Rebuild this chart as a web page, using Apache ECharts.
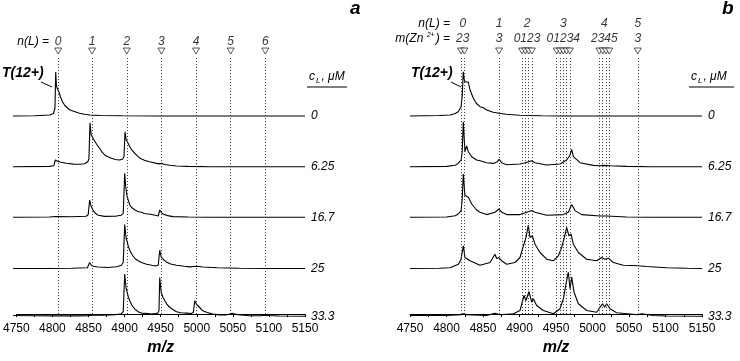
<!DOCTYPE html>
<html>
<head>
<meta charset="utf-8">
<style>
html, body { margin: 0; padding: 0; background: #fff; }
#chart { width: 740px; height: 361px; }
</style>
<script src="https://cdn.jsdelivr.net/npm/echarts/dist/echarts.min.js"></script>
</head>
<body>
<div id="chart"></div>
<script>
const MZ_MIN = 4750
const MZ_MAX = 5150
const concentrations = ['0', '6.25', '16.7', '25', '33.3']

// panel a: number of bound ligands and the m/z of each
const ligandCountA = ['0', '1', '2', '3', '4', '5', '6']
const ligandPosA = [4808, 4855, 4903, 4951, 4999, 5047, 5095]

// panel b: ligands + bound zinc ions
const ligandCountB = ['0', '1', '2', '3', '4', '5']
const zincLabelsB = ['23', '3', '0123', '01234', '2345', '3']
const zincPosB = [
  [4820, 4824.5],
  [4872],
  [4903.5, 4908, 4912.5, 4917],
  [4951, 4955.5, 4960, 4964.5, 4969],
  [5009.5, 5014, 5018.5, 5023],
  [5062]
]

// spectra, [m/z, intensity]
const specA0 = [[4750, 0], [4780, 0.3], [4800, 1], [4805.5, 2.5], [4807.5, 8], [4808.5, 44], [4809.5, 30], [4811, 27], [4812, 29], [4813, 24], [4815, 19], [4818, 14], [4821, 10.5], [4824, 8.5], [4827, 6.5], [4830, 5.5], [4832, 6], [4835, 4.3], [4841, 2.7], [4848, 1.7], [4855, 1], [4870, 0.5], [4900, 0.2], [4950, 0], [5150, 0]]
const specA1 = [[4750, 0], [4800, 0.3], [4806, 1], [4808, 6.7], [4811, 5.5], [4816, 4.5], [4823, 3.4], [4833, 2.6], [4841, 2.4], [4848, 3], [4852.5, 5], [4854, 8], [4855.5, 44], [4857, 32], [4860, 28], [4862, 26.5], [4865, 22], [4869, 18], [4872, 14.5], [4876, 11.5], [4880, 10], [4885, 8.4], [4890, 7.2], [4896, 6.7], [4900, 7.5], [4902, 10], [4903.5, 35], [4905, 27], [4908, 23], [4910, 20], [4913, 16.5], [4917, 13.4], [4920, 11], [4924, 8.4], [4930, 6.5], [4937, 5], [4945, 3.6], [4950, 2.8], [4953, 3.3], [4958, 2.2], [4965, 1.4], [4974, 0.7], [4990, 0.3], [5020, 0], [5150, 0]]
const specA2 = [[4750, 0], [4800, 0.3], [4808, 0.8], [4830, 0.5], [4850, 1], [4853, 2.5], [4855, 17.3], [4857, 11], [4859.5, 7.3], [4862, 4.5], [4866, 2.3], [4875, 0.9], [4890, 1], [4898, 2], [4901, 4], [4903, 44], [4904.5, 30], [4906, 22], [4908, 17], [4910, 12.3], [4913, 9.5], [4917, 7.3], [4922, 5.5], [4926, 5], [4930, 3.8], [4938, 3], [4945, 2], [4949, 1.3], [4951, 7.3], [4953, 5], [4956, 3], [4962, 1.7], [4969, 0.7], [4990, 0.3], [5020, 0], [5150, 0]]
const specA3 = [[4750, 0], [4800, 0], [4830, 0.2], [4852, 0.8], [4855, 6], [4857, 3.5], [4860, 2.3], [4866, 1.5], [4880, 1], [4892, 1.8], [4898.5, 3.3], [4901, 6], [4903, 44], [4905, 30], [4906.5, 26.6], [4908, 22], [4910, 18.3], [4913, 14], [4917, 10], [4921, 8], [4926, 6], [4933, 4.3], [4940, 3.3], [4946, 2.5], [4949, 3.5], [4951, 18.3], [4953, 11.6], [4956, 9], [4960, 6.6], [4966, 4.5], [4974, 3.3], [4985, 2.2], [4992, 1.6], [4997, 2], [4999, 3.3], [5002, 2.3], [5010, 1.5], [5030, 0.8], [5060, 0.3], [5100, 0], [5150, 0]]
const specA4 = [[4750, 1], [4780, 0.8], [4810, 0.6], [4840, 0.6], [4853, 0.8], [4855, 1.6], [4858, 1.2], [4875, 1.2], [4890, 1.8], [4898.5, 2.8], [4901, 5], [4903, 42.4], [4905, 28], [4906.5, 24], [4908, 19.5], [4910, 15.7], [4913, 11], [4917, 7.4], [4922, 4.5], [4926, 3.4], [4935, 3], [4940, 2.4], [4945, 3], [4948.5, 3.4], [4950, 6], [4951, 39], [4953, 24], [4955.5, 19], [4958, 15.7], [4961, 12], [4965, 9], [4970, 6.5], [4974, 4.7], [4980, 3.8], [4988, 3.4], [4994, 3], [4997, 4], [4999, 15.7], [5001, 12.5], [5003.5, 10.7], [5007, 8], [5010, 5.7], [5016, 4], [5024, 2.4], [5033, 1.6], [5041, 1.5], [5045, 2], [5047, 4], [5050, 3.2], [5054, 2.4], [5062, 1.5], [5075, 0.8], [5090, 0.8], [5095, 1.4], [5100, 1], [5115, 0.5], [5150, 0.3]]

const specB0 = [[4750, 0], [4790, 0.5], [4805, 1], [4812, 2.5], [4816, 4.3], [4820, 9.3], [4821.5, 20], [4823, 44.3], [4824, 38], [4825.3, 34], [4826.5, 35], [4827.6, 36], [4829.9, 34], [4832.2, 26], [4836.8, 17.7], [4841, 12.5], [4846, 9.3], [4850.5, 8.3], [4855, 6], [4864, 3.7], [4872, 2.7], [4882, 1.7], [4900, 0.7], [4930, 0.2], [4960, 0], [5150, 0]]
const specB1 = [[4750, 0], [4800, 0.3], [4812, 1.5], [4816, 3.3], [4820, 6.7], [4821.5, 15], [4823, 45], [4825.3, 15], [4827.6, 20.7], [4829.9, 15], [4834.5, 10], [4841.3, 6.7], [4846, 6], [4855, 4], [4864, 3.3], [4869.6, 5], [4872, 7.3], [4875.6, 4], [4882.4, 2], [4900.7, 2.7], [4908, 4], [4912, 5], [4916.7, 6], [4921.2, 4], [4937, 1.7], [4955.5, 2.7], [4964.6, 6.7], [4969.2, 11.7], [4971.5, 17.3], [4973.8, 10], [4983, 4], [5001, 1.3], [5010, 1], [5015, 1.3], [5024, 1], [5047, 0.3], [5080, 0], [5150, 0]]
const specB2 = [[4750, 0], [4800, 0.3], [4812, 1.5], [4816, 3.3], [4820, 6.7], [4821.5, 18], [4823, 43.3], [4825.3, 21.7], [4827.6, 23.3], [4829.9, 20], [4834.5, 13.3], [4841.3, 7.3], [4846, 5], [4855, 2.7], [4866.4, 5], [4872, 8.3], [4875.6, 5], [4882.4, 2.7], [4900.7, 2.7], [4909.8, 5], [4916.7, 6.7], [4921.2, 5], [4937.2, 2], [4960.1, 2.7], [4966.9, 5], [4971.5, 12.7], [4976, 6.7], [4985.2, 2.7], [5010.3, 1.3], [5019.4, 1.3], [5046.8, 0.3], [5080, 0], [5150, 0]]
const specB3 = [[4750, 0], [4790, 0.3], [4804.8, 0.7], [4816.2, 4.3], [4819.9, 9.3], [4823.1, 22.7], [4825.3, 11], [4827.6, 12.7], [4832.2, 7.7], [4845.9, 3.3], [4859.6, 6], [4866.4, 14.3], [4868.7, 10], [4871.9, 11], [4875.6, 7.7], [4882.4, 4.3], [4893.8, 6], [4900.7, 11], [4905.3, 22.7], [4908.9, 31], [4912.1, 43.3], [4914.4, 31], [4917.6, 32.7], [4921.2, 24.3], [4928.1, 16], [4937.2, 9.3], [4946.4, 7.7], [4953.2, 12.7], [4957.8, 21], [4961.4, 31], [4964.6, 41], [4967.8, 32.7], [4970.6, 34.3], [4973.8, 24.3], [4980.6, 16], [4992, 9.3], [5005.7, 7.7], [5012.6, 11], [5017.1, 9.3], [5021.7, 10.3], [5028.5, 6], [5042.2, 3.3], [5061.9, 2.7], [5074.2, 2], [5101.6, 0.7], [5130, 0.2], [5150, 0]]
const specB4 = [[4750, 1], [4800, 1], [4819.9, 1.7], [4823.1, 2.7], [4827.6, 1.7], [4855, 1], [4866.4, 3.3], [4873.3, 1.7], [4891.6, 2.7], [4900.7, 6], [4906.2, 21], [4908.9, 16], [4913, 25], [4916.7, 14.3], [4918.9, 17.7], [4923.5, 11], [4932.6, 6], [4946.4, 2.7], [4955.5, 7.7], [4960.1, 17.7], [4963.3, 31], [4966.9, 44.3], [4969.2, 27.7], [4971.5, 39.3], [4974.7, 24.3], [4980.6, 12.7], [4992, 6], [5005.7, 4.3], [5010.3, 9.3], [5013.9, 12.7], [5016.7, 9.3], [5019.4, 12.7], [5024, 7.7], [5033.1, 3.7], [5061.9, 1.7], [5067.4, 2.7], [5083.3, 1], [5101.6, 0.5], [5150, 0.3]]

const FONT = 'Liberation Sans'
const baselines = [116, 166.7, 217.3, 268.5, 316.5]
const grid = []
const xAxis = []
const yAxis = []
const series = []

function addPanel (left, spectra, marks) {
  const width = 292
  const frame = grid.length
  grid.push({ left, width, top: 56, height: 267 })
  xAxis.push({
    gridIndex: frame,
    type: 'value',
    min: MZ_MIN,
    max: MZ_MAX,
    interval: 50,
    name: 'm/z',
    nameLocation: 'middle',
    nameGap: 21,
    nameTextStyle: { fontFamily: FONT, fontSize: 16, fontWeight: 'bold', fontStyle: 'italic', color: '#000' },
    splitLine: { show: false },
    axisLine: { lineStyle: { color: '#000', width: 1 } },
    axisTick: { length: 3, lineStyle: { color: '#000' } },
    minorTick: { show: true, splitNumber: 2, length: 3, lineStyle: { color: '#000' } },
    axisLabel: { fontFamily: FONT, fontSize: 12, color: '#000', margin: 9, formatter: v => String(v) }
  })
  yAxis.push({ gridIndex: frame, type: 'value', min: 0, max: 1, show: false })

  spectra.forEach((data, i) => {
    const g = grid.length
    grid.push({ left, width, top: baselines[i] - 60, height: 60 })
    xAxis.push({ gridIndex: g, type: 'value', min: MZ_MIN, max: MZ_MAX, show: false })
    yAxis.push({ gridIndex: g, type: 'value', min: 0, max: 60, show: false })
    series.push({
      type: 'line',
      xAxisIndex: g,
      yAxisIndex: g,
      data,
      symbol: 'none',
      clip: false,
      silent: true,
      lineStyle: { color: '#000', width: 1.1 },
      endLabel: {
        show: true,
        formatter: concentrations[i],
        distance: 6,
        fontFamily: FONT,
        fontStyle: 'italic',
        fontSize: 12,
        color: '#000'
      }
    })
  })

  // triangles on top, dotted guide lines down to the axis
  series.push({
    type: 'scatter',
    xAxisIndex: frame,
    yAxisIndex: frame,
    data: marks.map(v => [v, 1]),
    symbol: 'triangle',
    symbolRotate: 180,
    symbolSize: [7, 6],
    symbolOffset: [0, -5],
    clip: false,
    silent: true,
    z: 5,
    itemStyle: { color: '#fff', borderColor: '#000', borderWidth: 0.8 },
    markLine: {
      silent: true,
      symbol: 'none',
      label: { show: false },
      lineStyle: { type: [1, 2], color: '#333', width: 1 },
      data: marks.map(v => ({ xAxis: v }))
    }
  })
  return frame
}

function addLabels (frame, items, dy) {
  series.push({
    type: 'scatter',
    xAxisIndex: frame,
    yAxisIndex: frame,
    clip: false,
    silent: true,
    symbolSize: 1,
    itemStyle: { color: 'transparent' },
    data: items.map(([x, t]) => ({ value: [x, 1], name: t })),
    label: {
      show: true,
      position: 'inside',
      offset: [0, dy],
      formatter: p => p.name,
      fontFamily: FONT,
      fontStyle: 'italic',
      fontSize: 12,
      color: '#000'
    }
  })
}

const frameA = addPanel(13, [specA0, specA1, specA2, specA3, specA4], ligandPosA)
addLabels(frameA, ligandPosA.map((v, i) => [v, ligandCountA[i]]), -14)

const frameB = addPanel(410, [specB0, specB1, specB2, specB3, specB4], zincPosB.flat())
const groupCentres = zincPosB.map(g => g.reduce((s, v) => s + v, 0) / g.length)
addLabels(frameB, groupCentres.map((v, i) => [v, ligandCountB[i]]), -32)
addLabels(frameB, groupCentres.map((v, i) => [v, zincLabelsB[i]]), -17)

const it = size => ({ fontFamily: FONT, fontStyle: 'italic', fontSize: size, fill: '#000' })
const txt = (x, y, text, size, bold, align) => ({
  type: 'text', x, y, silent: true,
  style: Object.assign(it(size), {
    text,
    fontWeight: bold ? 'bold' : 'normal',
    textAlign: align || 'left',
    textVerticalAlign: 'middle'
  })
})
const rule = (x1, y1, x2, y2) => ({
  type: 'line', silent: true, shape: { x1, y1, x2, y2 }, style: { stroke: '#000', lineWidth: 1 }
})
const cLabel = (x, y) => ({
  type: 'text', x, y, silent: true,
  style: Object.assign(it(12), {
    text: 'c{s|L}, μM',
    textVerticalAlign: 'middle',
    rich: { s: Object.assign(it(8), { padding: [7, 1, 0, 1] }) }
  })
})

const graphic = [
  txt(49, 42, 'n(L) =', 12, false, 'right'),
  txt(450, 24, 'n(L) =', 12, false, 'right'),
  {
    type: 'text', x: 450, y: 39, silent: true,
    style: Object.assign(it(12), {
      text: 'm(Zn {s|2+}) =',
      textAlign: 'right',
      textVerticalAlign: 'middle',
      rich: { s: Object.assign(it(7), { padding: [0, 1, 7, 0] }) }
    })
  },
  txt(2, 73, 'T(12+)', 14, true),
  rule(41, 82, 52, 87),
  txt(411, 73, 'T(12+)', 14, true),
  rule(451, 82, 461, 87),
  cLabel(309, 77),
  rule(307, 87, 347, 87),
  cLabel(691, 77),
  rule(689, 87, 734, 87),
  txt(350, 9, 'a', 19, true),
  txt(722, 9, 'b', 19, true)
]

const chart = echarts.init(document.getElementById('chart'), null, { renderer: 'canvas' })
chart.setOption({
  animation: false,
  backgroundColor: '#fff',
  grid,
  xAxis,
  yAxis,
  series,
  graphic
})
</script>
</body>
</html>
